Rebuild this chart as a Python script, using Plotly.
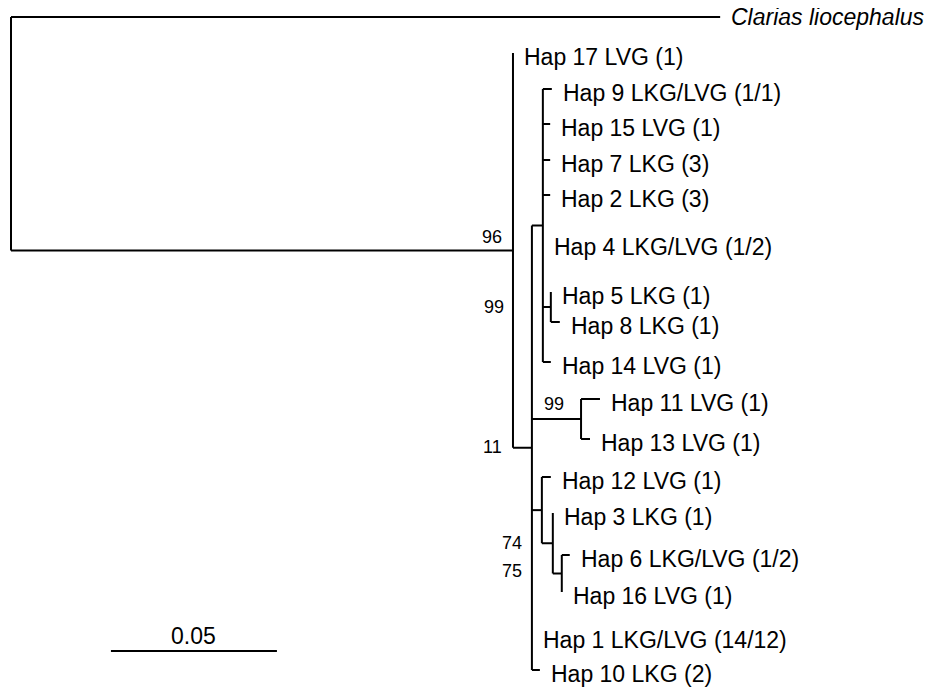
import plotly.graph_objects as go

# ---------------- data ----------------
leaf_labels = [
    "<i>Clarias liocephalus</i>",
    "Hap 17 LVG (1)",
    "Hap 9 LKG/LVG (1/1)",
    "Hap 15 LVG (1)",
    "Hap 7 LKG (3)",
    "Hap 2 LKG (3)",
    "Hap 4 LKG/LVG (1/2)",
    "Hap 5 LKG (1)",
    "Hap 8 LKG (1)",
    "Hap 14 LVG (1)",
    "Hap 11 LVG (1)",
    "Hap 13 LVG (1)",
    "Hap 12 LVG (1)",
    "Hap 3 LKG (1)",
    "Hap 6 LKG/LVG (1/2)",
    "Hap 16 LVG (1)",
    "Hap 1 LKG/LVG (14/12)",
    "Hap 10 LKG (2)",
]
# vertical position of each tip (row units, top = small)
tip_rows = [17, 53, 89, 124, 160, 195, 243, 292, 322, 362,
            399, 439, 477, 513, 555, 592, 636, 670]

# tree topology: (branch_length, leaf_index) for tips,
# (branch_length, [children], bootstrap) for internal nodes
tree = (0.0, [
    (0.2136, 0),
    (0.1512, [
        (0.0, 1),
        (0.0057, [
            (0.0033, [
                (0.0027, 2), (0.0022, 3), (0.0022, 4), (0.0022, 5), (0.0, 6),
                (0.0024, [(0.0, 7), (0.0027, 8)], "99a"),
                (0.0024, 9),
            ], None),
            (0.0148, [(0.0057, 10), (0.0027, 11)], "99b"),
            (0.0030, [
                (0.0027, 12),
                (0.0033, [
                    (0.0, 13),
                    (0.0027, [(0.0024, 14), (0.0, 15)], "75"),
                ], "74"),
            ], None),
            (0.0, 16),
            (0.0024, 17),
        ], "11"),
    ], "96"),
], None)

scale_value = 0.05
scale_label = "0.05"

# ---------------- layout of the tree ----------------
seg_x, seg_y = [], []
tips = []
nodes = {}


def layout(node, x0, parent_x):
    bl = node[0]
    x = x0 + bl
    if isinstance(node[1], int):
        idx = node[1]
        y = tip_rows[idx]
        tips.append((x, y, idx))
    else:
        ys = [layout(ch, x, x) for ch in node[1]]
        y = (ys[0] + ys[-1]) / 2.0
        seg_x.extend([x, x, None])
        seg_y.extend([ys[0], ys[-1], None])
        if node[2] is not None:
            nodes[node[2]] = (x, y)
    if parent_x is not None:
        seg_x.extend([parent_x, x, None])
        seg_y.extend([y, y, None])
    return y


layout(tree, 0.0, None)

fig = go.Figure()
fig.add_trace(go.Scatter(x=seg_x, y=seg_y, mode="lines",
                         line=dict(color="black", width=2),
                         hoverinfo="skip", showlegend=False))

FONT = "Liberation Sans, Arial, sans-serif"
ann = []
for x, y, idx in tips:
    ann.append(dict(x=x, y=y, text=leaf_labels[idx], showarrow=False,
                    xanchor="left", yanchor="middle",
                    xshift=9, yshift=(0 if idx == 0 else -4),
                    font=dict(family=FONT, size=23, color="black")))

# bootstrap labels
n96 = nodes["96"]
n11 = nodes["11"]
boot = [
    ("96", n96[0], n96[1], -9, 13),
    ("99", n96[0], nodes["99a"][1], -7, 0),
    ("11", n96[0], n11[1], -9, 1),
    ("99", nodes["99b"][0], nodes["99b"][1], -15, 15),
    ("74", n11[0], nodes["74"][1], -8, 0),
    ("75", n11[0], nodes["75"][1], -8, 3),
]
for t, x, y, xs, ys in boot:
    ann.append(dict(x=x, y=y, text=t, showarrow=False, xanchor="right",
                    yanchor="middle", xshift=xs, yshift=ys,
                    font=dict(family=FONT, size=18, color="black")))

# scale bar
sb_x0 = 0.0301
sb_y = 651
fig.add_trace(go.Scatter(x=[sb_x0, sb_x0 + scale_value], y=[sb_y, sb_y],
                         mode="lines", line=dict(color="black", width=2),
                         hoverinfo="skip", showlegend=False))
ann.append(dict(x=sb_x0 + scale_value / 2, y=sb_y, text=scale_label,
                showarrow=False, xanchor="center", yanchor="bottom", yshift=0,
                font=dict(family=FONT, size=23, color="black")))

# page has an 8px body margin: size the figure to fit the window
W, H = 925, 681
PAGE_OFF = 8
px_per_unit = 3320.0
root_px = 11 - PAGE_OFF
fig.update_layout(
    width=W, height=H, autosize=False,
    margin=dict(l=0, r=0, t=0, b=0),
    paper_bgcolor="white", plot_bgcolor="white",
    annotations=ann,
    xaxis=dict(range=[-root_px / px_per_unit, (W - root_px) / px_per_unit],
               visible=False, fixedrange=True),
    yaxis=dict(range=[H + PAGE_OFF, PAGE_OFF], visible=False, fixedrange=True),
)

fig.write_html("out.html")
